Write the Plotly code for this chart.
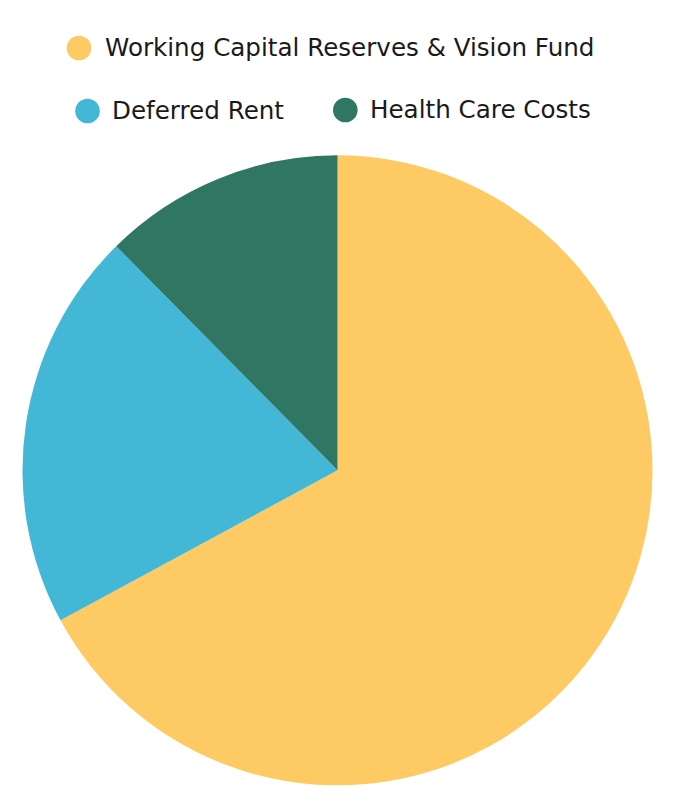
import plotly.graph_objects as go

labels = ["Working Capital Reserves & Vision Fund", "Deferred Rent", "Health Care Costs"]
values = [67.1, 20.5, 12.4]
colors = ["#FECA64", "#42B7D6", "#2F7763"]

W, H = 675, 810
OFF = 8  # the page body adds an 8px margin, so pull everything back by that

def px(x):
    return (x - OFF) / W

def py(y):
    return 1 - (y - OFF) / H

fig = go.Figure()
fig.add_trace(go.Pie(
    labels=labels, values=values, sort=False, direction="clockwise", rotation=0,
    marker=dict(colors=colors, line=dict(width=0)),
    textinfo="none", hoverinfo="label+percent", showlegend=False,
    domain=dict(x=[px(22.5), px(652.5)], y=[py(785.7), py(155)]),
))

# hand-made legend: big round markers in two rows
legend_dots = [(79, 48), (87.5, 111), (345.3, 110)]
legend_text_x = [105, 111.7, 370]
r = 12.3
for (cx, cy), tx, lab, col in zip(legend_dots, legend_text_x, labels, colors):
    fig.add_shape(type="circle", xref="paper", yref="paper",
                  x0=px(cx - r), x1=px(cx + r),
                  y0=py(cy + r), y1=py(cy - r),
                  fillcolor=col, line=dict(width=0))
    fig.add_annotation(x=px(tx - 2), y=py(cy - 0.5), xref="paper", yref="paper",
                       text=lab, showarrow=False, xanchor="left", yanchor="middle",
                       font=dict(family="DejaVu Sans", size=24.6, color="#1a1a1a"))

fig.update_layout(
    width=W, height=H, margin=dict(l=0, r=0, t=0, b=0),
    paper_bgcolor="white", plot_bgcolor="white",
)
fig.write_html("out.html")
